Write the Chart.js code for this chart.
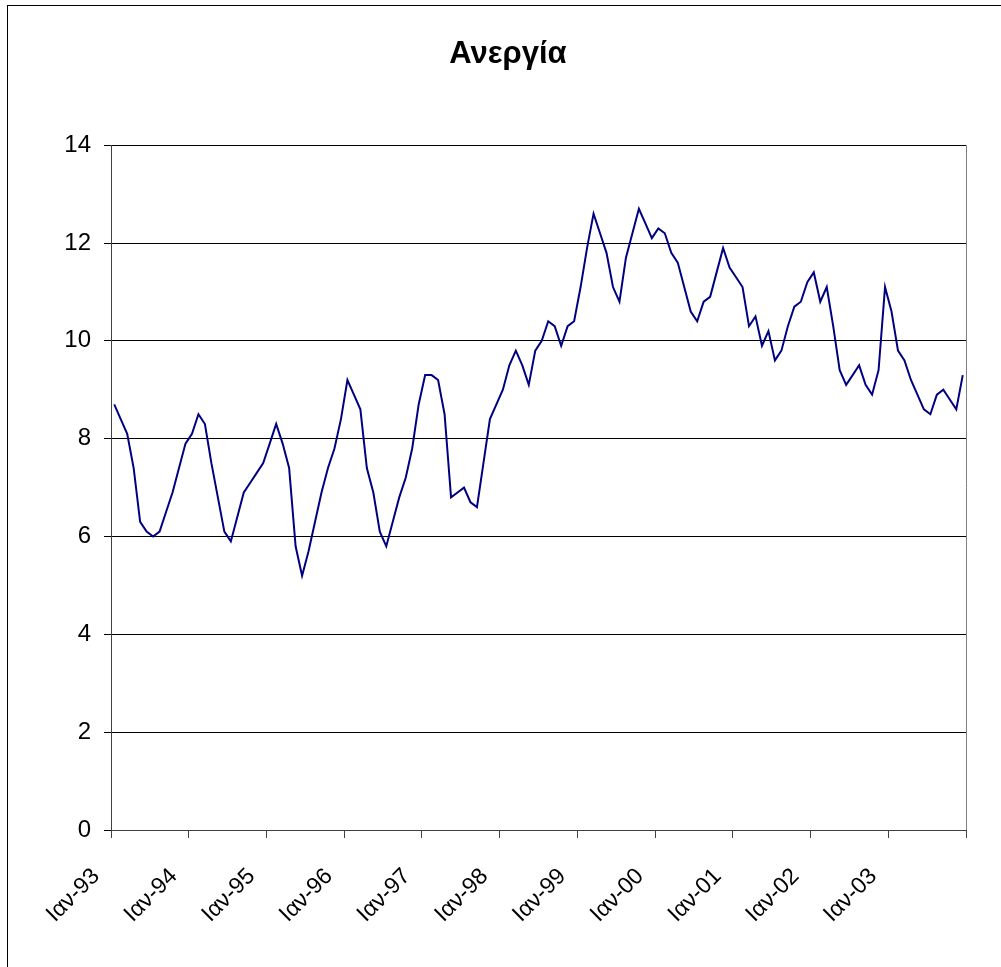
<!DOCTYPE html>
<html>
<head>
<meta charset="utf-8">
<title>Ανεργία</title>
<script src="https://cdn.jsdelivr.net/npm/chart.js@4/dist/chart.umd.min.js"></script>
<style>
  html, body { margin: 0; padding: 0; background: #fff; }
  #wrap { position: relative; width: 1001px; height: 967px; }
  #frame { position: absolute; left: 7px; top: 5px; width: 1100px; height: 1100px;
           border-left: 1px solid #000; border-top: 1px solid #000; box-sizing: border-box; }
  canvas { position: absolute; left: 0; top: 0; }
</style>
</head>
<body>
<div id="wrap">
  <div id="frame"></div>
  <canvas id="chart" width="1001" height="967"></canvas>
</div>
<script>
// Monthly unemployment rate (%), January to December of each year
const u1993 = [8.7, 8.4, 8.1, 7.4, 6.3, 6.1, 6.0, 6.1, 6.5, 6.9, 7.4, 7.9];
const u1994 = [8.1, 8.5, 8.3, 7.5, 6.8, 6.1, 5.9, 6.4, 6.9, 7.1, 7.3, 7.5];
const u1995 = [7.9, 8.3, 7.9, 7.4, 5.8, 5.2, 5.7, 6.3, 6.9, 7.4, 7.8, 8.4];
const u1996 = [9.2, 8.9, 8.6, 7.4, 6.9, 6.1, 5.8, 6.3, 6.8, 7.2, 7.8, 8.7];
const u1997 = [9.3, 9.3, 9.2, 8.5, 6.8, 6.9, 7.0, 6.7, 6.6, 7.5, 8.4, 8.7];
const u1998 = [9.0, 9.5, 9.8, 9.5, 9.1, 9.8, 10.0, 10.4, 10.3, 9.9, 10.3, 10.4];
const u1999 = [11.1, 11.9, 12.6, 12.2, 11.8, 11.1, 10.8, 11.7, 12.2, 12.7, 12.4, 12.1];
const u2000 = [12.3, 12.2, 11.8, 11.6, 11.1, 10.6, 10.4, 10.8, 10.9, 11.4, 11.9, 11.5];
const u2001 = [11.3, 11.1, 10.3, 10.5, 9.9, 10.2, 9.6, 9.8, 10.3, 10.7, 10.8, 11.2];
const u2002 = [11.4, 10.8, 11.1, 10.3, 9.4, 9.1, 9.3, 9.5, 9.1, 8.9, 9.4, 11.1];
const u2003 = [10.6, 9.8, 9.6, 9.2, 8.9, 8.6, 8.5, 8.9, 9.0, 8.8, 8.6, 9.3];

// Year labels shown at each January boundary
const yearLabels = ['Ιαν-93', 'Ιαν-94', 'Ιαν-95', 'Ιαν-96', 'Ιαν-97', 'Ιαν-98',
                    'Ιαν-99', 'Ιαν-00', 'Ιαν-01', 'Ιαν-02', 'Ιαν-03'];
const yTicks = [0, 2, 4, 6, 8, 10, 12, 14];

const years = [u1993, u1994, u1995, u1996, u1997, u1998, u1999, u2000, u2001, u2002, u2003];
const series = [].concat(...years);
const points = series.map((v, i) => ({ x: i, y: v }));
const nMonths = series.length;

// Grey right-hand edge of the plot area
const plotEdge = {
  id: 'plotEdge',
  afterDraw(chart) {
    const { ctx, chartArea: a } = chart;
    ctx.save();
    ctx.strokeStyle = '#808080';
    ctx.lineWidth = 1;
    ctx.beginPath();
    ctx.moveTo(Math.round(a.right) + 0.5, a.top);
    ctx.lineTo(Math.round(a.right) + 0.5, a.bottom);
    ctx.stroke();
    ctx.restore();
  }
};

new Chart(document.getElementById('chart'), {
  type: 'line',
  data: {
    datasets: [{
      data: points,
      borderColor: '#000080',
      borderWidth: 2,
      pointRadius: 0,
      tension: 0,
      fill: false
    }]
  },
  options: {
    responsive: false,
    animation: false,
    layout: { padding: { left: 50, right: 35, top: 0, bottom: 0 } },
    plugins: {
      legend: { display: false },
      tooltip: { enabled: false },
      title: {
        display: true,
        text: 'Ανεργία',
        color: '#000',
        font: { family: '"Liberation Sans", Arial, sans-serif', size: 31, weight: 'bold' },
        padding: { top: 36, bottom: 72 }
      }
    },
    scales: {
      x: {
        type: 'linear',
        min: -0.5,
        max: nMonths - 0.5,
        afterBuildTicks(scale) {
          const t = [];
          for (let v = -0.5; v <= nMonths - 0.5 + 1e-9; v += 12) t.push({ value: v });
          scale.ticks = t;
        },
        afterFit(scale) {
          scale.height = 137;
          // rotated labels should not push the plot edges inward
          scale.paddingLeft = 0;
          scale.paddingRight = 0;
        },
        grid: { display: true, drawOnChartArea: false, drawTicks: true, tickLength: 8, color: '#404040' },
        border: { display: true, color: '#404040', width: 1 },
        ticks: {
          autoSkip: false,
          maxRotation: 45,
          minRotation: 45,
          labelOffset: -15,
          padding: 25,
          color: '#000',
          font: { family: '"Liberation Sans", Arial, sans-serif', size: 23 },
          callback(value) {
            const k = Math.round((value + 0.5) / 12);
            return yearLabels[k] || '';
          }
        }
      },
      y: {
        min: 0,
        max: 14,
        afterBuildTicks(scale) { scale.ticks = yTicks.map(v => ({ value: v })); },
        afterFit(scale) { scale.width = 61; },
        grid: { color: '#000', lineWidth: 1, drawTicks: true, tickLength: 7 },
        border: { display: true, color: '#404040', width: 1 },
        ticks: {
          padding: 13,
          color: '#000',
          font: { family: '"Liberation Sans", Arial, sans-serif', size: 24 }
        }
      }
    }
  },
  plugins: [plotEdge]
});
</script>
</body>
</html>
